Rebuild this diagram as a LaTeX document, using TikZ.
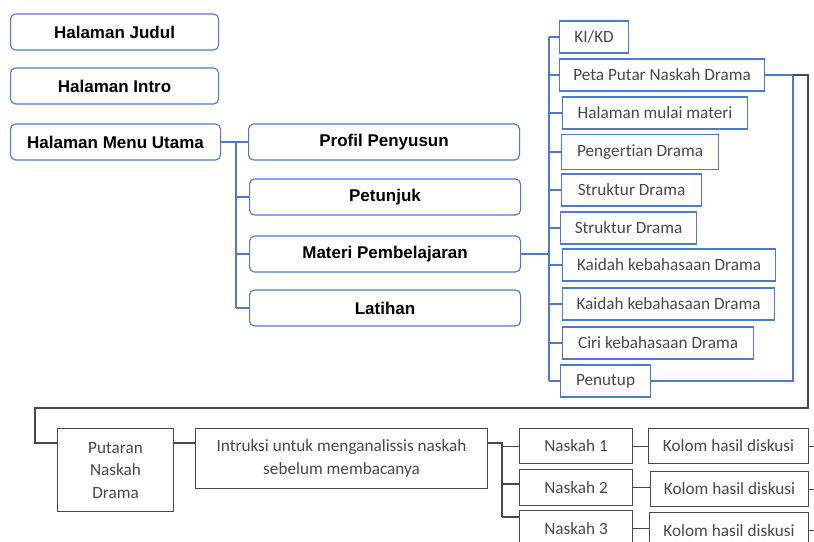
\documentclass[tikz,border=0pt]{standalone}
\usepackage{fontspec}
\setmainfont[Ligatures={NoCommon}]{Carlito}
\newfontfamily\menufont{Liberation Sans}
\usetikzlibrary{positioning}
\definecolor{birupr}{RGB}{76,122,204}
\definecolor{abupr}{RGB}{72,72,72}

\begin{document}
\begin{tikzpicture}[x=1pt, y=-1pt,
    menu/.style={draw=birupr, line width=1.1pt, rounded corners=5pt, minimum height=36pt,
      anchor=west, text=black, font=\menufont\bfseries\fontsize{17}{20}\selectfont},
    sub/.style={draw=birupr, line width=1.1pt, minimum height=32pt, anchor=west,
      text=abupr, font=\fontsize{17.2}{20}\selectfont},
    kotak/.style={draw=abupr, line width=1.1pt, anchor=north west, align=center,
      text=abupr, font=\fontsize{17.2}{22.5}\selectfont},
    garisbiru/.style={draw=birupr, line width=1.1pt},
    garisabu/.style={draw=abupr, line width=1.1pt}]
    \useasboundingbox (0,0) rectangle (814,541);
    \clip (0,0) rectangle (814,541);

    % Halaman awal
    \node[menu, minimum width=208] (judul) at (10,32) {Halaman Judul};
    \node[menu, minimum width=208] (intro) at (10,86) {Halaman Intro};
    \node[menu, minimum width=210] (utama) at (10,142) {Halaman Menu Utama};

    % Menu utama
    \node[menu, minimum width=271] (profil) at (248,142) {Profil Penyusun};
    \node[menu, minimum width=271] (petunjuk) at (249,197) {Petunjuk};
    \node[menu, minimum width=271] (materi) at (249,254) {Materi Pembelajaran};
    \node[menu, minimum width=271] (latihan) at (249,308) {Latihan};

    % Isi materi
    \node[sub, minimum width=69] (kikd) at (559,37) {KI/KD};
    \node[sub, minimum width=205] (peta) at (559,75) {Peta Putar Naskah Drama};
    \node[sub, minimum width=185] (mulai) at (562,113) {Halaman mulai materi};
    \node[sub, minimum width=157, minimum height=35] (pengertian) at (561,152) {Pengertian Drama};
    \node[sub, minimum width=140] (struktur) at (561,190) {Struktur Drama};
    \node[sub, minimum width=136] (strukturb) at (560,228) {Struktur Drama};
    \node[sub, minimum width=213] (kaidah) at (562,265) {Kaidah kebahasaan Drama};
    \node[sub, minimum width=212] (kaidahb) at (562,304) {Kaidah kebahasaan Drama};
    \node[sub, minimum width=191] (ciri) at (562,343) {Ciri kebahasaan Drama};
    \node[sub, minimum width=90] (penutup) at (560,381) {Penutup};

    % Putaran naskah
    \node[kotak, minimum width=116, minimum height=83] (putaran) at (57,428) {Putaran\\Naskah\\Drama};
    \node[kotak, minimum width=292, minimum height=60] (intruksi) at (195,428) {Intruksi untuk menganalissis naskah\\sebelum membacanya};
    \node[kotak, minimum width=113, minimum height=35] (naskaha) at (519,428) {Naskah 1};
    \node[kotak, minimum width=113, minimum height=36] (naskahb) at (519,469) {Naskah 2};
    \node[kotak, minimum width=113, minimum height=36] (naskahc) at (519,510) {Naskah 3};
    \node[kotak, minimum width=160, minimum height=35] (koloma) at (648,428) {Kolom hasil diskusi};
    \node[kotak, minimum width=158, minimum height=35] (kolomb) at (650,471) {Kolom hasil diskusi};
    \node[kotak, minimum width=159, minimum height=36] (kolomc) at (649,512) {Kolom hasil diskusi};

    % Titik bantu
    \coordinate (tengah) at (236,0);
    \coordinate (kanan) at (549,0);
    \coordinate (balik) at (793,0);
    \coordinate (pojok) at (808,0);
    \coordinate (bawah) at (0,408);
    \coordinate (kiri) at (35,0);
    \coordinate (cabang) at (502,0);
    \coordinate (tepi) at (818,0);

    % Garis menu
    \draw[garisbiru] (utama.east) -- (profil.west);
    \draw[garisbiru] (tengah |- utama.east) -- (tengah |- latihan.west);
    \foreach \m in {petunjuk,materi,latihan}
      \draw[garisbiru] (tengah |- \m.west) -- (\m.west);

    % Garis materi
    \draw[garisbiru] (materi.east) -- (kanan |- materi.east);
    \draw[garisbiru] (kanan |- kikd.west) -- (kanan |- penutup.west);
    \foreach \m in {kikd,peta,mulai,pengertian,struktur,strukturb,kaidah,kaidahb,ciri,penutup}
      \draw[garisbiru] (kanan |- \m.west) -- (\m.west);
    \draw[garisbiru] (peta.east) -| (balik |- penutup.east) -- (penutup.east);

    % Garis putaran naskah
    \draw[garisabu] (balik |- peta.east) -- (pojok |- peta.east) |- (kiri |- bawah)
      |- ([yshift=-15pt]putaran.north west);
    \draw[garisabu] ([yshift=-15pt]putaran.north east) -- ([yshift=-15pt]intruksi.north west);
    \draw[garisabu] ([yshift=-15pt]intruksi.north east) -| ([yshift=-7pt]cabang |- naskahc.north);
    \draw[garisabu] (cabang |- naskaha.west) -- (naskaha.west);
    \draw[garisabu] ([yshift=-15pt]cabang |- naskahb.north) -- ([yshift=-15pt]naskahb.north west);
    \draw[garisabu] ([yshift=-7pt]cabang |- naskahc.north) -- ([yshift=-7pt]naskahc.north west);
    \draw[garisabu] (naskaha.east) -- (naskaha.east -| koloma.west);
    \draw[garisabu] (naskahb.east) -- (naskahb.east -| kolomb.west);
    \draw[garisabu] (naskahc.east) -- (naskahc.east -| kolomc.west);
    \foreach \k in {koloma,kolomb,kolomc}
      \draw[garisabu] (\k.east) -- (tepi |- \k.east);
\end{tikzpicture}
\end{document}
